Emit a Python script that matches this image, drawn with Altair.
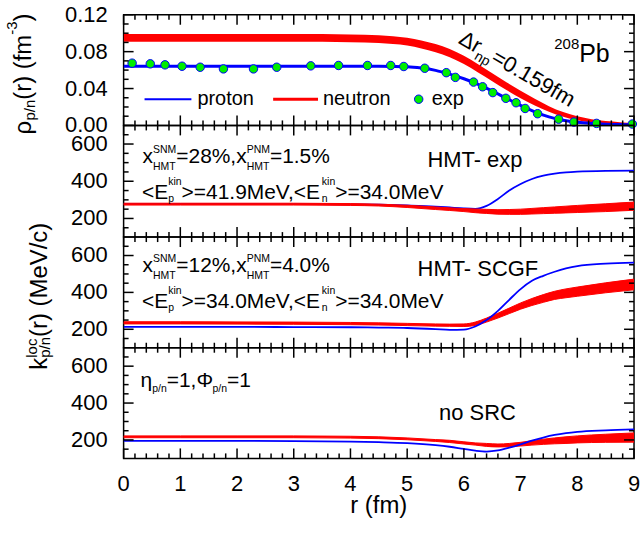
import math
import altair as alt
import pandas as pd

FONT = "Liberation Sans"
BLUE = "#0000ff"
RED = "#ff0000"
GREEN = "#00ee00"

# ---------------- data ----------------
# Panel 1: density profiles (fm^-3)
r_rho = [0, 1, 2, 3, 4, 4.5, 5, 5.25, 5.5, 5.75, 6, 6.25, 6.5, 6.75, 7, 7.25, 7.5, 7.75, 8, 8.25, 8.5, 8.75, 9]
rho_proton = [0.0642, 0.0642, 0.0642, 0.0642, 0.0642, 0.0641, 0.0636, 0.0622, 0.0597, 0.0556, 0.0506, 0.0446,
              0.0373, 0.0293, 0.0218, 0.0148, 0.0092, 0.0056, 0.0034, 0.0021, 0.0014, 0.0010, 0.0008]
rho_neutron_lo = [0.0908, 0.0908, 0.0908, 0.0907, 0.0903, 0.0894, 0.0866, 0.0835, 0.0794, 0.0739, 0.0665, 0.0573,
                  0.0478, 0.0383, 0.0295, 0.0216, 0.0147, 0.0093, 0.0055, 0.0030, 0.0015, 0.0007, 0.0002]
rho_neutron_hi = [0.0992, 0.0992, 0.0992, 0.0991, 0.0987, 0.0978, 0.0950, 0.0921, 0.0882, 0.0829, 0.0755, 0.0663,
                  0.0566, 0.0467, 0.0375, 0.0288, 0.0209, 0.0145, 0.0099, 0.0068, 0.0047, 0.0035, 0.0026]
r_exp = [0.15, 0.47, 0.73, 1.03, 1.35, 1.76, 2.29, 2.70, 3.30, 3.79, 4.30, 4.71, 4.94, 5.31, 5.69, 5.85,
         6.17, 6.33, 6.51, 6.74, 6.92, 7.08, 7.30, 7.67, 7.94, 8.34, 8.97]
rho_exp = [0.0675, 0.0668, 0.0657, 0.0642, 0.0631, 0.0613, 0.0613, 0.0631, 0.0646, 0.0650, 0.0650, 0.0650,
           0.0639, 0.0620, 0.0572, 0.0521, 0.0470, 0.0419, 0.0356, 0.0294, 0.0246, 0.0184, 0.0127, 0.0068,
           0.0036, 0.0022, 0.0015]

# Panels 2-4: local Fermi momentum (MeV/c)
r_k = [0, 1, 2, 3, 4, 4.5, 5, 5.5, 5.75, 6, 6.2, 6.4, 6.6, 6.8, 7, 7.2, 7.4, 7.6, 7.8, 8, 8.5, 9]

k_p_hmt_exp = [278, 278, 278, 277, 276, 274, 270, 264, 259, 254, 252, 268, 305, 350, 385, 412, 430, 441, 448, 452, 456, 457]
k_n_hmt_exp_lo = [272, 272, 272, 272, 270, 267, 259, 248, 243, 237, 231, 227, 223, 222, 222, 224, 226, 228, 230, 232, 237, 244]
k_n_hmt_exp_hi = [282, 282, 282, 282, 280, 277, 271, 262, 257, 253, 251, 249, 247, 248, 250, 254, 258, 262, 266, 270, 279, 288]

k_p_scgf = [213, 213, 213, 212, 211, 209, 207, 201, 197, 198, 215, 250, 300, 360, 418, 463, 490, 512, 530, 543, 556, 561]
k_n_scgf_lo = [229, 229, 228, 227, 225, 223, 220, 217, 216, 215, 221, 239, 261, 285, 309, 329, 346, 362, 371, 379, 398, 414]
k_n_scgf_hi = [241, 241, 240, 239, 237, 235, 232, 229, 228, 229, 239, 261, 287, 315, 343, 367, 388, 406, 419, 429, 452, 472]

k_p_nosrc = [195, 195, 195, 194, 191, 188, 183, 172, 163, 151, 142, 137, 143, 158, 176, 196, 213, 227, 237, 244, 252, 257]
k_n_nosrc_lo = [212, 212, 212, 212, 210, 207, 201, 192, 186, 178, 172, 165, 162, 163, 167, 172, 176, 179, 181, 184, 187, 188]
k_n_nosrc_hi = [222, 222, 222, 222, 220, 217, 211, 202, 198, 190, 184, 181, 178, 181, 187, 196, 204, 211, 217, 222, 231, 238]

X_MAJOR = list(range(10))
X_MINOR = [round(i * 0.2, 1) for i in range(46) if i % 5]
RHO_MAJOR = [0.0, 0.04, 0.08, 0.12]
RHO_MINOR = [0.01, 0.02, 0.03, 0.05, 0.06, 0.07, 0.09, 0.10, 0.11]
K_MAJOR = [200, 400, 600]
K_MINOR = [150, 250, 300, 350, 450, 500, 550, 650]

# ---------------- layout helpers ----------------
LEFT = 123
TOPS = [13, 124, 236, 347]
HEIGHTS = [111, 112, 111, 111]
WIDTH = 512
MAJ, MIN = 10, 5
TICK_W = 1.5
LABEL_FS = 22
XDOM = [0, 9]

W = {' ': 278, '(': 333, ')': 333, 'r': 333, 'f': 278, 'm': 833, '-': 333, 'p': 556, '/': 278, 'n': 556,
     'ρ': 578, 'k': 500, 'l': 222, 'o': 556, 'c': 500, 'M': 833, 'e': 556, 'V': 667, 'x': 500, 'S': 667,
     'N': 722, 'H': 722, 'T': 611, '=': 584, '%': 889, ',': 278, '.': 278, '<': 584, '>': 584, 'E': 667,
     'i': 222, 'η': 556, 'Φ': 764, 'Δ': 668, 'P': 667, 'b': 556, 'C': 722, 'G': 778, 'F': 611, 'R': 722,
     't': 278}


def tw(s, fs):
    return sum(W.get(c, 556) for c in s) * fs / 1000.0


def place(x0, y0, ang, segs):
    rad = math.radians(ang)
    dx, dy = math.cos(rad), math.sin(rad)
    ux, uy = math.sin(rad), -math.cos(rad)
    rows, cur = [], 0.0
    for seg in segs:
        adv = 0.0
        for txt, fs, sh in seg:
            rows.append({"tx": x0 + cur * dx + sh * ux, "ty": y0 + cur * dy + sh * uy,
                         "txt": txt, "fs": fs, "ang": ang})
            adv = max(adv, tw(txt, fs))
        cur += adv
    return rows


def center(txt, cx, base, fs):
    return place(cx - tw(txt, fs) / 2.0, base, 0, [[(txt, fs, 0)]])


def rel(rows, i):
    out = []
    for r in rows:
        r = dict(r)
        r["tx"] -= LEFT
        r["ty"] -= TOPS[i]
        out.append(r)
    return pd.DataFrame(out)


XS = alt.Scale(domain=XDOM, nice=False, zero=False)


def frame_ticks(ydom, y_major, y_minor, h):
    # inward tick marks on all four edges of a panel (axis furniture), drawn as thin rectangles
    hw = TICK_W / 2.0
    rows = []
    for vals, ln in ((X_MAJOR, MAJ), (X_MINOR, MIN)):
        for v in vals:
            px = (v - XDOM[0]) / (XDOM[1] - XDOM[0]) * WIDTH
            rows.append({"a": px - hw, "c": px + hw, "b": h - ln, "d": h})
            rows.append({"a": px - hw, "c": px + hw, "b": 0, "d": ln})
    for vals, ln in ((y_major, MAJ), (y_minor, MIN)):
        for v in vals:
            py = h - (v - ydom[0]) / (ydom[1] - ydom[0]) * h
            rows.append({"a": 0, "c": ln, "b": py - hw, "d": py + hw})
            rows.append({"a": WIDTH - ln, "c": WIDTH, "b": py - hw, "d": py + hw})
    return alt.Chart(pd.DataFrame(rows)).mark_rect(color="black", opacity=1).encode(
        x=alt.X("a:Q", scale=None, axis=None), x2="c:Q",
        y=alt.Y("b:Q", scale=None, axis=None), y2="d:Q")


def xlabels_layer(vals, h):
    df = pd.DataFrame({"t": vals, "lab": [str(v) for v in vals]})
    return alt.Chart(df).mark_text(font=FONT, fontSize=LABEL_FS, color="black", align="center",
                                   baseline="top").encode(
        x=alt.X("t:Q", scale=XS, axis=None), y=alt.value(h + 16), text="lab:N")


def ylabels_layer(vals, fmt, ys):
    df = pd.DataFrame({"t": vals, "lab": [format(v, fmt) for v in vals]})
    return alt.Chart(df).mark_text(font=FONT, fontSize=LABEL_FS, color="black", align="right",
                                   baseline="middle").encode(
        y=alt.Y("t:Q", scale=ys, axis=None), x=alt.value(-16), text="lab:N")


def text_layer(df):
    return alt.Chart(df).mark_text(align="left", baseline="alphabetic", font=FONT, color="black").encode(
        x=alt.X("tx:Q", scale=None, axis=None),
        y=alt.Y("ty:Q", scale=None, axis=None),
        text="txt:N",
        size=alt.Size("fs:Q", scale=None, legend=None),
        angle=alt.Angle("ang:Q", scale=None),
    )


def panel(i, ydom, y_major, y_minor, yfmt, builders, ann, extra_layers=(), xlabels=False):
    ys = alt.Scale(domain=ydom, nice=False, zero=False)
    h = HEIGHTS[i]
    layers = [ylabels_layer(y_major, yfmt, ys)]
    if xlabels:
        layers.append(xlabels_layer(X_MAJOR, h))
    layers += [b(ys) for b in builders]
    layers += list(extra_layers)
    layers.append(text_layer(rel(ann, i)))
    layers.append(frame_ticks(ydom, y_major, y_minor, h))
    return alt.layer(*layers).properties(width=WIDTH, height=h)


def band(df, lw):
    def f(ys):
        return alt.Chart(df).mark_area(color=RED, stroke=RED, strokeWidth=lw, opacity=1,
                                       interpolate="monotone", clip=True).encode(
            x=alt.X("r:Q", scale=XS, axis=None), y=alt.Y("lo:Q", scale=ys, axis=None), y2="hi:Q")
    return f


def line(df, lw):
    def f(ys):
        return alt.Chart(df).mark_line(color=BLUE, strokeWidth=lw, interpolate="monotone", clip=True).encode(
            x=alt.X("r:Q", scale=XS, axis=None), y=alt.Y("v:Q", scale=ys, axis=None))
    return f


def points(df):
    def f(ys):
        return alt.Chart(df).mark_point(shape="circle", filled=True, fill=GREEN, stroke=BLUE, strokeWidth=1,
                                        size=72, opacity=1, fillOpacity=1).encode(
            x=alt.X("r:Q", scale=XS, axis=None), y=alt.Y("v:Q", scale=ys, axis=None))
    return f


one = pd.DataFrame({"a": [0]})

# ---------------- panel 1 ----------------
df_p1 = pd.DataFrame({"r": r_rho, "v": rho_proton})
df_n1 = pd.DataFrame({"r": r_rho, "lo": rho_neutron_lo, "hi": rho_neutron_hi})
df_e1 = pd.DataFrame({"r": r_exp, "v": rho_exp})

ann1 = []
ann1 += place(30, 133, 270, [[("ρ", 24, 0)], [("p/n", 15, -4)], [("(r) (fm", 24, 0)], [("-3", 15, 14)], [(")", 24, 0)]])
ann1 += place(197, 104, 0, [[("proton", 20, 0)]])
ann1 += place(323, 104, 0, [[("neutron", 20, 0)]])
ann1 += place(432, 104, 0, [[("exp", 20, 0)]])
ann1 += place(458, 41, 30, [[("Δr", 22, 0)], [("np", 14, -6)], [("=0.159fm", 22, 0)]])
ann1 += place(555, 60, 0, [[("208", 15, 13)], [("Pb", 25, 0)]])

legend1 = [
    alt.Chart(one).mark_rule(color=BLUE, strokeWidth=2).encode(
        x=alt.value(144 - LEFT), x2=alt.value(191 - LEFT), y=alt.value(97.7 - TOPS[0])),
    alt.Chart(one).mark_rule(color=RED, strokeWidth=3).encode(
        x=alt.value(273 - LEFT), x2=alt.value(318 - LEFT), y=alt.value(97.7 - TOPS[0])),
    alt.Chart(one).mark_point(shape="circle", filled=True, fill=GREEN, stroke=BLUE, strokeWidth=1,
                              size=72, opacity=1).encode(x=alt.value(419 - LEFT), y=alt.value(97.7 - TOPS[0])),
    alt.Chart(one).mark_rule(opacity=0).encode(x=alt.value(-LEFT), y=alt.value(-TOPS[0]), y2=alt.value(-TOPS[0] + 1)),
]

p1 = panel(0, [0, 0.12], RHO_MAJOR, RHO_MINOR, ".2f",
           [band(df_n1, 0), line(df_p1, 3), points(df_e1)], ann1, legend1)

# ---------------- panel 2 ----------------
df_p2 = pd.DataFrame({"r": r_k, "v": k_p_hmt_exp})
df_n2 = pd.DataFrame({"r": r_k, "lo": k_n_hmt_exp_lo, "hi": k_n_hmt_exp_hi})
ann2 = []
ann2 += place(142, 161.5, 0, [[("x", 21, 0)], [("SNM", 10.5, 9.8), ("HMT", 10.5, -6.8)], [("=28%,x", 21, 0)],
                              [("PNM", 10.5, 9.8), ("HMT", 10.5, -6.8)], [("=1.5%", 21, 0)]])
ann2 += place(141.5, 198, 0, [[("<E", 21, 0)], [("kin", 10.5, 14.5), ("p", 10.5, -3)], [(">=41.9MeV,<E", 21, 0)],
                              [("kin", 10.5, 14.5), ("n", 10.5, -3)], [(">=34.0MeV", 21, 0)]])
ann2 += center("HMT- exp", 476, 166, 22)
p2 = panel(1, [100, 700], K_MAJOR, K_MINOR, "d", [line(df_p2, 1.8), band(df_n2, 1)], ann2)

# ---------------- panel 3 ----------------
df_p3 = pd.DataFrame({"r": r_k, "v": k_p_scgf})
df_n3 = pd.DataFrame({"r": r_k, "lo": k_n_scgf_lo, "hi": k_n_scgf_hi})
d3 = 109.5
ann3 = []
ann3 += place(142, 161.5 + d3, 0, [[("x", 21, 0)], [("SNM", 10.5, 9.8), ("HMT", 10.5, -6.8)], [("=12%,x", 21, 0)],
                                   [("PNM", 10.5, 9.8), ("HMT", 10.5, -6.8)], [("=4.0%", 21, 0)]])
ann3 += place(141.5, 198 + d3, 0, [[("<E", 21, 0)], [("kin", 10.5, 14.5), ("p", 10.5, -3)], [(">=34.0MeV,<E", 21, 0)],
                                   [("kin", 10.5, 14.5), ("n", 10.5, -3)], [(">=34.0MeV", 21, 0)]])
ann3 += center("HMT- SCGF", 479, 275, 22)
ann3 += place(46, 369, 270, [[("k", 24, 0)], [("loc", 15, 10), ("p/n", 15, -3)], [("(r) (MeV/c)", 24, 0)]])
p3 = panel(2, [100, 700], K_MAJOR, K_MINOR, "d", [band(df_n3, 1), line(df_p3, 1.8)], ann3)

# ---------------- panel 4 ----------------
df_p4 = pd.DataFrame({"r": r_k, "v": k_p_nosrc})
df_n4 = pd.DataFrame({"r": r_k, "lo": k_n_nosrc_lo, "hi": k_n_nosrc_hi})
ann4 = []
ann4 += place(140, 386, 0, [[("η", 21, 0)], [("p/n", 10.5, -5)], [("=1,Φ", 21, 0)], [("p/n", 10.5, -5)], [("=1", 21, 0)]])
ann4 += center("no SRC", 478, 420, 22)
ann4 += center("r (fm)", LEFT + WIDTH / 2, TOPS[3] + HEIGHTS[3] + 55, 24)
p4 = panel(3, [100, 700], K_MAJOR, K_MINOR, "d", [band(df_n4, 1), line(df_p4, 1.8)], ann4, xlabels=True)

chart = alt.vconcat(p1, p2, p3, p4, spacing=0, bounds="flush", padding=0, background="white").configure_view(
    stroke="black", strokeWidth=1.5)

chart.save("out.html", embed_options={"renderer": "svg", "actions": False})
